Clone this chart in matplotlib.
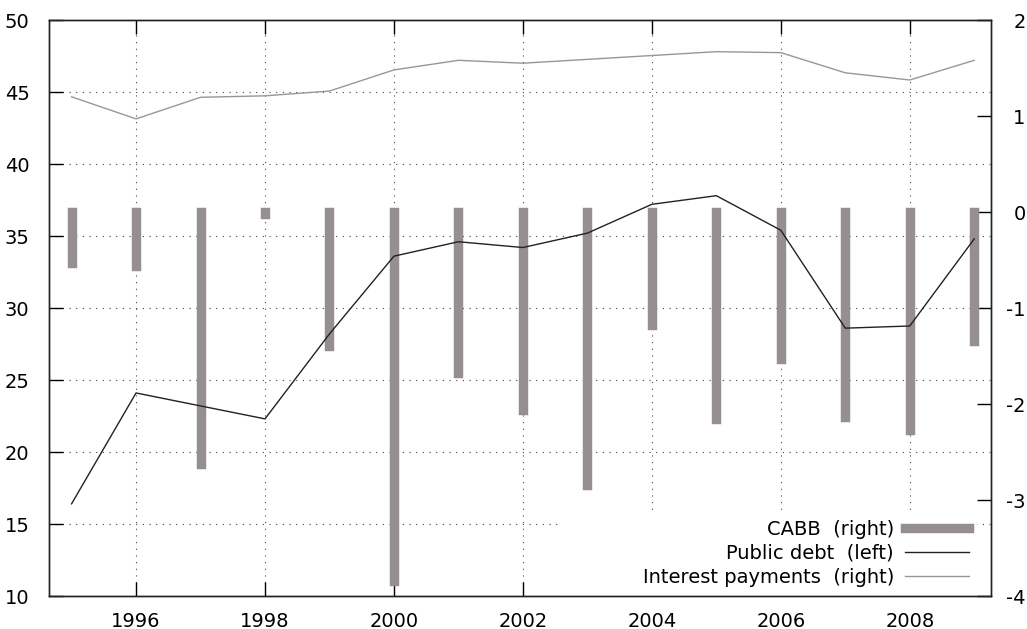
import matplotlib
matplotlib.use("Agg")
import matplotlib.pyplot as plt
from matplotlib.lines import Line2D
from matplotlib.patches import Rectangle

plt.rcParams["font.family"] = "DejaVu Sans"
plt.rcParams["axes.unicode_minus"] = False

years = list(range(1995, 2010))

# current account balance (right axis)
cabb = [-0.53, -0.565, -2.62, -0.02, -1.40, -3.84, -1.68, -2.06,
        -2.84, -1.175, -2.16, -1.53, -2.14, -2.27, -1.34]
# public debt (left axis)
public_debt = [16.4, 24.1, 23.2, 22.3, 28.2, 33.6, 34.6, 34.2,
               35.2, 37.2, 37.8, 35.4, 28.6, 28.75, 34.8]
# interest payments (right axis)
interest = [1.20, 0.97, 1.195, 1.21, 1.26, 1.48, 1.58, 1.55,
            1.59, 1.63, 1.67, 1.66, 1.45, 1.375, 1.58]

left_ticks = list(range(10, 51, 5))
right_ticks = list(range(-4, 3))
right_labels = [str(v) for v in right_ticks]
year_ticks = list(range(1996, 2009, 2))

bar_color = "#958f8f"
debt_color = "#222222"
interest_color = "#939a93"

fig = plt.figure(figsize=(10.27, 6.29), dpi=100)
ax = fig.add_axes([49 / 1027, 33 / 629, 942 / 1027, 576 / 629])
ax2 = ax.twinx()

ax.set_xlim(1994.65, 2009.26)
ax.set_ylim(10, 50)

# dotted grid on the left scale, kept under everything else
ax.set_axisbelow(True)
ax.set_xticks(year_ticks)
ax.set_yticks(left_ticks)
ax.grid(True, color="#444444", linewidth=0.8, linestyle=(0, (1, 5)))
# white patch behind the key hides the grid there
ax.add_patch(Rectangle((0.54, 0.0), 0.445, 0.144, transform=ax.transAxes,
                       facecolor="white", edgecolor="none", zorder=1))

ax.tick_params(axis="both", direction="in", length=10, width=1,
               labelsize=14, top=True, right=False)
ax.tick_params(axis="x", pad=11.5)
ax.tick_params(axis="y", pad=14)

bars = ax2.vlines(years, 0, cabb, colors=bar_color, linewidth=6.8)
bars.set_capstyle("projecting")
ax2.plot(years, interest, color=interest_color, linewidth=1.0)
ax2.plot(years, public_debt, color=debt_color, linewidth=1.0,
         transform=ax.transData)
ax2.set_ylim(-4, 2)
ax2.set_yticks(right_ticks, labels=right_labels, ha="right")
ax2.tick_params(axis="y", direction="in", length=10, width=1,
                labelsize=14, pad=25)

for a in (ax, ax2):
    for s in a.spines.values():
        s.set_linewidth(1.0)
        s.set_color("#222222")

handles = [
    Line2D([], [], color=bar_color, linewidth=6.8),
    Line2D([], [], color=debt_color, linewidth=1.0),
    Line2D([], [], color=interest_color, linewidth=1.0),
]
labels = ["CABB  (right)", "Public debt  (left)", "Interest payments  (right)"]
ax2.legend(handles, labels, loc="lower right", bbox_to_anchor=(0.977, 0.016),
           frameon=False, markerfirst=False, fontsize=14, handlelength=3.3,
           handletextpad=0.57, borderpad=0, borderaxespad=0, labelspacing=0.25)

fig.savefig("out.png", dpi=100)
